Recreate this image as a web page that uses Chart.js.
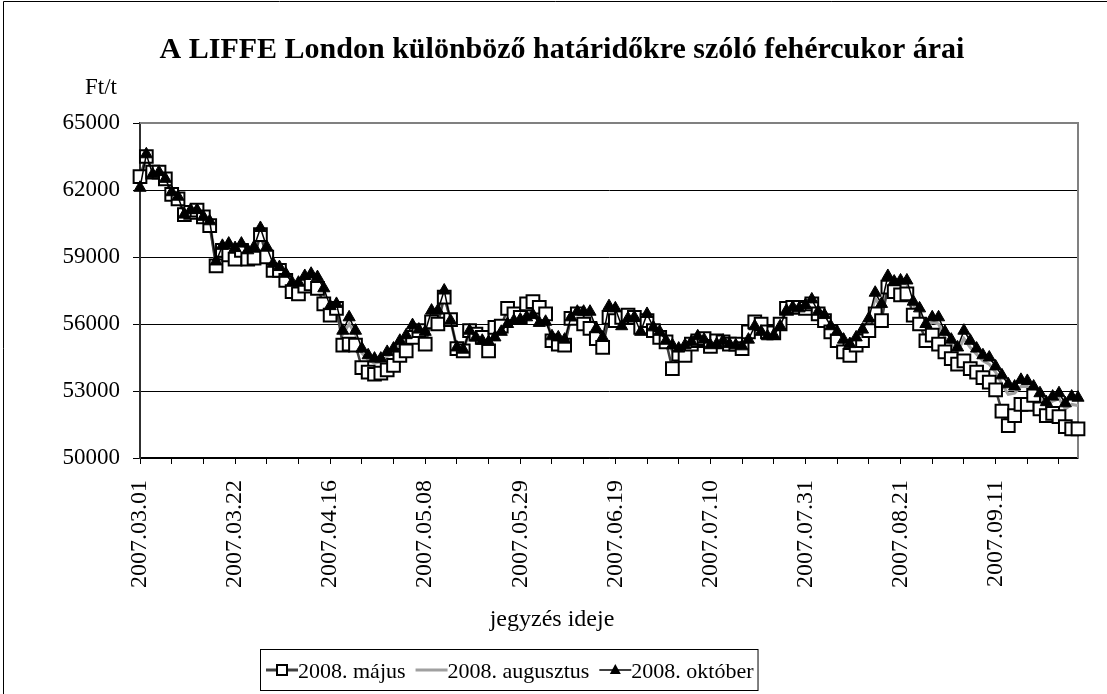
<!DOCTYPE html>
<html>
<head>
<meta charset="utf-8">
<script src="https://cdn.jsdelivr.net/npm/chart.js@4.4.1/dist/chart.umd.min.js"></script>
<style>
body { margin: 0; background: #fff; }
</style>
</head>
<body>
<canvas id="c" width="1107" height="694"></canvas>
<script>
const dates = [
 "2007.03.01","2007.03.02","2007.03.05","2007.03.06","2007.03.07","2007.03.08","2007.03.09","2007.03.12","2007.03.13","2007.03.14",
 "2007.03.15","2007.03.16","2007.03.19","2007.03.20","2007.03.21","2007.03.22","2007.03.23","2007.03.26","2007.03.27","2007.03.28",
 "2007.03.29","2007.03.30","2007.04.02","2007.04.03","2007.04.04","2007.04.05","2007.04.10","2007.04.11","2007.04.12","2007.04.13",
 "2007.04.16","2007.04.17","2007.04.18","2007.04.19","2007.04.20","2007.04.23","2007.04.24","2007.04.25","2007.04.26","2007.04.27",
 "2007.04.30","2007.05.01","2007.05.02","2007.05.03","2007.05.04","2007.05.08","2007.05.09","2007.05.10","2007.05.11","2007.05.14",
 "2007.05.15","2007.05.16","2007.05.17","2007.05.18","2007.05.21","2007.05.22","2007.05.23","2007.05.24","2007.05.25","2007.05.28",
 "2007.05.29","2007.05.30","2007.05.31","2007.06.01","2007.06.04","2007.06.05","2007.06.06","2007.06.07","2007.06.08","2007.06.11",
 "2007.06.12","2007.06.13","2007.06.14","2007.06.15","2007.06.18","2007.06.19","2007.06.20","2007.06.21","2007.06.22","2007.06.25",
 "2007.06.26","2007.06.27","2007.06.28","2007.06.29","2007.07.02","2007.07.03","2007.07.04","2007.07.05","2007.07.06","2007.07.09",
 "2007.07.10","2007.07.11","2007.07.12","2007.07.13","2007.07.16","2007.07.17","2007.07.18","2007.07.19","2007.07.20","2007.07.23",
 "2007.07.24","2007.07.25","2007.07.26","2007.07.27","2007.07.30","2007.07.31","2007.08.01","2007.08.02","2007.08.03","2007.08.06",
 "2007.08.07","2007.08.08","2007.08.09","2007.08.10","2007.08.13","2007.08.14","2007.08.15","2007.08.16","2007.08.17","2007.08.20",
 "2007.08.21","2007.08.22","2007.08.23","2007.08.24","2007.08.27","2007.08.28","2007.08.29","2007.08.30","2007.08.31","2007.09.03",
 "2007.09.04","2007.09.05","2007.09.06","2007.09.07","2007.09.10","2007.09.11","2007.09.12","2007.09.13","2007.09.14","2007.09.17",
 "2007.09.18","2007.09.19","2007.09.20","2007.09.21","2007.09.24","2007.09.25","2007.09.26","2007.09.27","2007.09.28"
];

const maj = [
 62600,63500,62800,62800,62500,61800,61600,60900,61000,61100,
 60800,60400,58600,59300,59100,58900,59300,58900,58950,60000,
 59000,58400,58400,57950,57450,57350,57700,57800,57600,56900,
 56400,56700,55050,55100,55050,54050,53850,53750,53800,53950,
 54150,54600,54800,55400,55700,55100,56100,56000,57200,56200,
 54900,54800,55700,55550,55400,54800,55850,55900,56700,56450,
 56300,56900,57000,56750,56450,55250,55100,55050,56250,56450,
 56000,55800,55350,54950,56300,56150,56300,56400,56300,55850,
 56150,55700,55400,55200,54000,54650,54600,55100,55250,55350,
 55000,55250,55200,55100,55100,54900,55650,56100,56000,55650,
 55600,56000,56700,56750,56750,56700,56900,56450,56150,55650,
 55250,54750,54600,55050,55250,55700,56450,56150,57650,57450,
 57300,57350,56400,56000,55250,55500,55100,54750,54450,54200,
 54350,54000,53850,53600,53400,53050,52100,51450,51900,52400,
 52400,52800,52200,51900,52000,51850,51400,51300,51300
];

const augusztus = [
 62200,63550,62750,62800,62500,61850,61650,60900,61050,61100,
 60800,60550,58750,59450,59450,59250,59500,59200,59300,60200,
 59350,58600,58500,58150,57750,57700,58050,58150,57950,57400,
 56700,56850,55550,56000,55550,54700,54400,54250,54300,54550,
 54700,55100,55300,55800,55750,55500,56450,56450,57400,56150,
 54950,54850,55700,55450,55300,55100,55500,55700,56200,56250,
 56250,56450,56550,56250,56200,55400,55300,55250,56300,56500,
 56400,56350,55700,55300,56700,56550,56000,56300,56300,55700,
 56350,55800,55600,55250,54800,54850,54950,55150,55400,55300,
 55050,55150,55250,55100,55050,54950,55400,55950,55750,55500,
 55500,55900,56600,56750,56700,56800,57050,56500,56350,55850,
 55550,55150,55000,55300,55600,56100,57150,56700,58000,57800,
 57800,57800,56850,56500,55800,56100,56000,55400,55100,54750,
 55350,54950,54650,54350,54200,53850,53300,52850,52900,53200,
 53200,53100,52700,52350,52550,52650,52200,52400,52350
];

const oktober = [
 62100,63600,62700,62800,62500,61900,61700,60900,61100,61100,
 60800,60600,58800,59500,59600,59400,59600,59300,59450,60300,
 59450,58700,58550,58250,57850,57850,58150,58250,58100,57600,
 56800,56900,55700,56300,55700,54900,54600,54450,54450,54750,
 54900,55250,55500,55950,55750,55650,56600,56600,57500,56150,
 54950,54850,55700,55400,55250,55200,55400,55650,56000,56150,
 56200,56300,56400,56050,56100,55450,55400,55300,56300,56550,
 56550,56550,55800,55400,56800,56700,55900,56250,56300,55650,
 56450,55850,55650,55250,55050,54900,55050,55200,55450,55300,
 55050,55100,55250,55100,55050,55000,55300,55900,55650,55450,
 55500,55900,56600,56750,56700,56850,57100,56550,56400,55900,
 55650,55300,55100,55400,55750,56250,57400,56900,58150,57900,
 57950,57950,57000,56700,56000,56300,56300,55650,55300,54950,
 55700,55250,54900,54600,54500,54100,53700,53300,53200,53500,
 53450,53200,52900,52500,52750,52900,52450,52750,52700
];

const seriesNames = ["2008. május", "2008. augusztus", "2008. október"];
const yTicks = [50000, 53000, 56000, 59000, 62000, 65000];

const serif = "'Liberation Serif', 'Times New Roman', serif";

const decor = {
    id: "decor",
    beforeDatasetsDraw(chart) {
        const ctx = chart.ctx;
        const a = chart.chartArea;
        ctx.save();
        ctx.strokeStyle = "#808080";
        ctx.lineWidth = 2;
        ctx.beginPath();
        ctx.moveTo(a.left, a.top);
        ctx.lineTo(a.right, a.top);
        ctx.lineTo(a.right, a.bottom);
        ctx.stroke();
        ctx.restore();
    },
    afterDraw(chart) {
        const ctx = chart.ctx;
        ctx.save();
        // frame
        ctx.strokeStyle = "#000";
        ctx.lineWidth = 1;
        ctx.beginPath();
        ctx.moveTo(3.5, 700);
        ctx.lineTo(3.5, 1.5);
        ctx.lineTo(1110, 1.5);
        ctx.stroke();

        ctx.fillStyle = "#000";
        ctx.textBaseline = "alphabetic";
        ctx.font = "bold 30px " + serif;
        ctx.textAlign = "center";
        ctx.fillText("A LIFFE London különböző határidőkre szóló fehércukor árai", 562, 58);

        ctx.font = "23px " + serif;
        ctx.textAlign = "left";
        ctx.fillText("Ft/t", 85, 94);
        ctx.font = "24px " + serif;
        ctx.textAlign = "center";
        ctx.fillText("jegyzés ideje", 552, 626);

        // legend
        ctx.font = "22px " + serif;
        ctx.textAlign = "left";
        let x = 266;
        const y = 670;
        const top = 649, bottom = 690;
        const boxLeft = 260;
        for (let i = 0; i < seriesNames.length; i++) {
            ctx.beginPath();
            if (i == 0) {
                ctx.strokeStyle = "#404040"; ctx.lineWidth = 3;
            } else if (i == 1) {
                ctx.strokeStyle = "#a0a0a0"; ctx.lineWidth = 3;
            } else {
                ctx.strokeStyle = "#000"; ctx.lineWidth = 1.5;
            }
            ctx.moveTo(x, y);
            ctx.lineTo(x + 32, y);
            ctx.stroke();
            const cx = x + 16;
            if (i == 0) {
                ctx.fillStyle = "#fff";
                ctx.fillRect(cx - 5, y - 5, 10, 10);
                ctx.strokeStyle = "#000"; ctx.lineWidth = 2;
                ctx.strokeRect(cx - 5, y - 5, 10, 10);
            } else if (i == 2) {
                ctx.fillStyle = "#000";
                ctx.beginPath();
                ctx.moveTo(cx, y - 6);
                ctx.lineTo(cx + 5.5, y + 4);
                ctx.lineTo(cx - 5.5, y + 4);
                ctx.closePath();
                ctx.fill();
            }
            ctx.fillStyle = "#000";
            ctx.fillText(seriesNames[i], x + 32, 678);
            x += 32 + ctx.measureText(seriesNames[i]).width + 10;
        }
        ctx.strokeStyle = "#000";
        ctx.lineWidth = 1;
        ctx.strokeRect(boxLeft + 0.5, top + 0.5, x - boxLeft - 6, bottom - top);
        ctx.restore();
    }
};

new Chart("c", {
    type: "line",
    data: {
        labels: dates,
        datasets: [{
            label: seriesNames[0],
            data: maj,
            borderColor: "#404040",
            borderWidth: 2.5,
            pointStyle: "rect",
            pointRadius: 9,
            pointBorderWidth: 2,
            pointBorderColor: "#000",
            pointBackgroundColor: "#fff",
            tension: 0,
            clip: false,
            order: 2
        }, {
            label: seriesNames[1],
            data: augusztus,
            borderColor: "#a0a0a0",
            borderWidth: 3,
            pointRadius: 0,
            tension: 0,
            clip: false,
            order: 3
        }, {
            label: seriesNames[2],
            data: oktober,
            borderColor: "#000",
            borderWidth: 1.5,
            pointStyle: "triangle",
            pointRadius: 7,
            pointBorderWidth: 1,
            pointBorderColor: "#000",
            pointBackgroundColor: "#000",
            tension: 0,
            clip: false,
            order: 1
        }]
    },
    options: {
        responsive: false,
        animation: false,
        events: [],
        layout: { padding: { left: 0, right: 29, top: 123, bottom: 0 } },
        plugins: {
            legend: { display: false },
            title: { display: false },
            tooltip: { enabled: false }
        },
        scales: {
            x: {
                offset: false,
                afterFit: function(scale) { scale.height = 236; },
                border: { color: "#000", width: 1.5 },
                grid: {
                    drawOnChartArea: false,
                    drawTicks: true,
                    tickLength: 6,
                    color: "#000",
                    tickColor: "#000"
                },
                ticks: {
                    autoSkip: false,
                    maxRotation: 90,
                    minRotation: 90,
                    padding: 16,
                    color: "#000",
                    font: { family: serif, size: 24 },
                    callback: function(val, i) {
                        if (i % 15 == 0) return dates[i];
                        if (i % 5 == 0) return "";
                        return null;
                    }
                }
            },
            y: {
                min: yTicks[0],
                max: yTicks[yTicks.length - 1],
                afterFit: function(scale) { scale.width = 140; },
                afterBuildTicks: function(scale) {
                    scale.ticks = yTicks.map(v => ({ value: v }));
                },
                border: { color: "#303030", width: 2 },
                grid: {
                    color: ctx => ctx.tick && ctx.tick.value == 65000 ? "rgba(0,0,0,0)" : "#000",
                    lineWidth: 1,
                    tickLength: 7,
                    tickColor: "#000"
                },
                ticks: {
                    padding: 13,
                    color: "#000",
                    font: { family: serif, size: 23 },
                    callback: v => String(v)
                }
            }
        }
    },
    plugins: [decor]
});
</script>
</body>
</html>
